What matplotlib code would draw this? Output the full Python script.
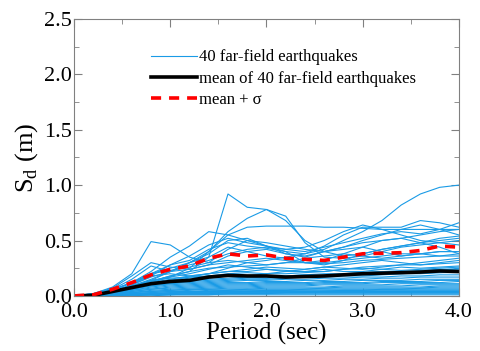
import numpy as np
import matplotlib
matplotlib.use('Agg')
import matplotlib.pyplot as plt
from matplotlib.ticker import MultipleLocator, FormatStrFormatter

plt.rcParams['font.family'] = ['Liberation Serif', 'DejaVu Serif']
plt.rcParams['mathtext.fontset'] = 'custom'
plt.rcParams['mathtext.rm'] = 'Liberation Serif'

# periods (sec)
period = [0.0, 0.2, 0.4, 0.6, 0.8, 1.0, 1.2, 1.4, 1.6, 1.8, 2.0,
          2.2, 2.4, 2.6, 2.8, 3.0, 3.2, 3.4, 3.6, 3.8, 4.0]

# spectral displacement of the 40 records (m)
eq_sd = [
    [0, 0.01, 0.04, 0.08, 0.13, 0.18, 0.22, 0.35, 0.92, 0.80, 0.78, 0.68, 0.50, 0.40, 0.36, 0.38, 0.42, 0.45, 0.48, 0.50, 0.52],
    [0, 0.01, 0.03, 0.07, 0.12, 0.17, 0.25, 0.40, 0.58, 0.70, 0.78, 0.72, 0.48, 0.35, 0.34, 0.36, 0.40, 0.44, 0.46, 0.48, 0.50],
    [0, 0.01, 0.03, 0.06, 0.10, 0.14, 0.17, 0.20, 0.25, 0.30, 0.32, 0.35, 0.38, 0.42, 0.50, 0.58, 0.68, 0.82, 0.92, 0.98, 1.00],
    [0, 0.01, 0.04, 0.09, 0.15, 0.22, 0.30, 0.40, 0.55, 0.62, 0.63, 0.63, 0.63, 0.62, 0.62, 0.61, 0.60, 0.60, 0.60, 0.60, 0.60],
    [0, 0.02, 0.08, 0.20, 0.49, 0.46, 0.35, 0.30, 0.42, 0.50, 0.45, 0.38, 0.35, 0.40, 0.42, 0.44, 0.40, 0.36, 0.38, 0.40, 0.40],
    [0, 0.01, 0.05, 0.12, 0.22, 0.35, 0.45, 0.58, 0.55, 0.50, 0.48, 0.45, 0.42, 0.40, 0.44, 0.50, 0.55, 0.60, 0.64, 0.60, 0.55],
    [0, 0.01, 0.04, 0.10, 0.18, 0.28, 0.32, 0.42, 0.48, 0.45, 0.43, 0.40, 0.38, 0.45, 0.55, 0.62, 0.62, 0.62, 0.68, 0.66, 0.62],
    [0, 0.01, 0.03, 0.08, 0.14, 0.22, 0.28, 0.32, 0.38, 0.42, 0.44, 0.42, 0.40, 0.44, 0.48, 0.52, 0.56, 0.58, 0.56, 0.60, 0.66],
    [0, 0.01, 0.04, 0.10, 0.20, 0.28, 0.36, 0.46, 0.52, 0.48, 0.45, 0.42, 0.44, 0.50, 0.58, 0.64, 0.60, 0.55, 0.50, 0.48, 0.46],
    [0, 0.02, 0.06, 0.15, 0.27, 0.22, 0.30, 0.38, 0.50, 0.52, 0.45, 0.40, 0.30, 0.28, 0.32, 0.38, 0.42, 0.45, 0.48, 0.52, 0.54],
    [0, 0.02, 0.07, 0.18, 0.30, 0.26, 0.24, 0.28, 0.36, 0.40, 0.42, 0.38, 0.36, 0.40, 0.44, 0.48, 0.50, 0.52, 0.55, 0.58, 0.60],
    [0, 0.01, 0.05, 0.12, 0.20, 0.25, 0.30, 0.35, 0.44, 0.40, 0.36, 0.34, 0.30, 0.32, 0.38, 0.44, 0.50, 0.52, 0.48, 0.44, 0.38],
    [0, 0.01, 0.05, 0.12, 0.20, 0.23, 0.26, 0.30, 0.32, 0.30, 0.28, 0.30, 0.34, 0.36, 0.38, 0.36, 0.34, 0.36, 0.38, 0.40, 0.40],
    [0, 0.01, 0.04, 0.10, 0.17, 0.22, 0.24, 0.28, 0.30, 0.32, 0.34, 0.32, 0.30, 0.30, 0.32, 0.34, 0.36, 0.38, 0.38, 0.36, 0.38],
    [0, 0.01, 0.04, 0.08, 0.13, 0.18, 0.22, 0.25, 0.26, 0.27, 0.28, 0.30, 0.30, 0.29, 0.30, 0.32, 0.33, 0.34, 0.35, 0.36, 0.36],
    [0, 0.01, 0.03, 0.08, 0.14, 0.17, 0.20, 0.24, 0.28, 0.26, 0.24, 0.22, 0.24, 0.26, 0.28, 0.30, 0.32, 0.30, 0.28, 0.30, 0.32],
    [0, 0.02, 0.06, 0.12, 0.18, 0.20, 0.18, 0.20, 0.22, 0.24, 0.26, 0.25, 0.24, 0.26, 0.25, 0.24, 0.26, 0.28, 0.30, 0.32, 0.34],
    [0, 0.01, 0.04, 0.08, 0.12, 0.15, 0.18, 0.20, 0.22, 0.22, 0.24, 0.23, 0.22, 0.22, 0.24, 0.26, 0.27, 0.28, 0.28, 0.29, 0.30],
    [0, 0.01, 0.03, 0.07, 0.11, 0.14, 0.16, 0.18, 0.20, 0.21, 0.20, 0.22, 0.22, 0.24, 0.22, 0.22, 0.24, 0.26, 0.25, 0.26, 0.27],
    [0, 0.01, 0.04, 0.09, 0.14, 0.16, 0.17, 0.18, 0.19, 0.18, 0.20, 0.20, 0.21, 0.22, 0.24, 0.25, 0.24, 0.23, 0.24, 0.25, 0.26],
    [0, 0.01, 0.03, 0.06, 0.10, 0.12, 0.14, 0.15, 0.16, 0.17, 0.18, 0.18, 0.19, 0.20, 0.20, 0.21, 0.22, 0.22, 0.23, 0.24, 0.24],
    [0, 0.01, 0.03, 0.06, 0.09, 0.11, 0.13, 0.14, 0.15, 0.16, 0.16, 0.17, 0.17, 0.18, 0.19, 0.19, 0.20, 0.20, 0.21, 0.21, 0.22],
    [0, 0.01, 0.03, 0.05, 0.08, 0.10, 0.11, 0.12, 0.13, 0.14, 0.14, 0.15, 0.15, 0.16, 0.16, 0.17, 0.17, 0.18, 0.18, 0.19, 0.19],
    [0, 0.01, 0.02, 0.05, 0.07, 0.09, 0.10, 0.11, 0.12, 0.12, 0.13, 0.13, 0.14, 0.14, 0.15, 0.15, 0.16, 0.16, 0.17, 0.17, 0.17],
    [0, 0.01, 0.02, 0.04, 0.06, 0.08, 0.09, 0.10, 0.11, 0.11, 0.12, 0.12, 0.12, 0.13, 0.13, 0.14, 0.14, 0.14, 0.15, 0.15, 0.15],
    [0, 0.01, 0.02, 0.04, 0.06, 0.07, 0.08, 0.09, 0.10, 0.10, 0.11, 0.11, 0.11, 0.12, 0.12, 0.12, 0.13, 0.13, 0.13, 0.14, 0.14],
    [0, 0.01, 0.02, 0.03, 0.05, 0.06, 0.07, 0.08, 0.09, 0.09, 0.10, 0.10, 0.10, 0.11, 0.11, 0.11, 0.12, 0.12, 0.12, 0.12, 0.13],
    [0, 0.01, 0.02, 0.03, 0.04, 0.05, 0.06, 0.07, 0.08, 0.08, 0.09, 0.09, 0.09, 0.10, 0.10, 0.10, 0.10, 0.11, 0.11, 0.11, 0.11],
    [0, 0.00, 0.01, 0.03, 0.04, 0.05, 0.06, 0.06, 0.07, 0.07, 0.08, 0.08, 0.08, 0.08, 0.09, 0.09, 0.09, 0.09, 0.10, 0.10, 0.10],
    [0, 0.00, 0.01, 0.02, 0.03, 0.04, 0.05, 0.06, 0.06, 0.06, 0.07, 0.07, 0.07, 0.07, 0.08, 0.08, 0.08, 0.08, 0.08, 0.09, 0.09],
    [0, 0.00, 0.01, 0.02, 0.03, 0.04, 0.04, 0.05, 0.05, 0.06, 0.06, 0.06, 0.06, 0.07, 0.07, 0.07, 0.07, 0.07, 0.07, 0.08, 0.08],
    [0, 0.00, 0.01, 0.02, 0.02, 0.03, 0.04, 0.04, 0.05, 0.05, 0.05, 0.05, 0.06, 0.06, 0.06, 0.06, 0.06, 0.06, 0.07, 0.07, 0.07],
    [0, 0.00, 0.01, 0.01, 0.02, 0.03, 0.03, 0.04, 0.04, 0.04, 0.05, 0.05, 0.05, 0.05, 0.05, 0.05, 0.06, 0.06, 0.06, 0.06, 0.06],
    [0, 0.00, 0.01, 0.01, 0.02, 0.02, 0.03, 0.03, 0.03, 0.04, 0.04, 0.04, 0.04, 0.04, 0.05, 0.05, 0.05, 0.05, 0.05, 0.05, 0.05],
    [0, 0.00, 0.00, 0.01, 0.01, 0.02, 0.02, 0.02, 0.03, 0.03, 0.03, 0.03, 0.03, 0.04, 0.04, 0.04, 0.04, 0.04, 0.04, 0.04, 0.04],
    [0, 0.00, 0.00, 0.01, 0.01, 0.01, 0.02, 0.02, 0.02, 0.02, 0.02, 0.03, 0.03, 0.03, 0.03, 0.03, 0.03, 0.03, 0.03, 0.03, 0.03],
    [0, 0.00, 0.00, 0.00, 0.01, 0.01, 0.01, 0.01, 0.02, 0.02, 0.02, 0.02, 0.02, 0.02, 0.02, 0.02, 0.02, 0.02, 0.02, 0.02, 0.02],
    [0, 0.00, 0.00, 0.00, 0.00, 0.01, 0.01, 0.01, 0.01, 0.01, 0.01, 0.01, 0.01, 0.01, 0.01, 0.01, 0.01, 0.01, 0.01, 0.01, 0.01],
    [0, 0.01, 0.03, 0.07, 0.10, 0.12, 0.13, 0.16, 0.18, 0.17, 0.16, 0.18, 0.19, 0.18, 0.20, 0.21, 0.22, 0.21, 0.22, 0.23, 0.25],
    [0, 0.01, 0.02, 0.06, 0.09, 0.11, 0.12, 0.13, 0.14, 0.15, 0.15, 0.16, 0.17, 0.17, 0.18, 0.18, 0.19, 0.20, 0.20, 0.21, 0.21],
]

sd_mean = [0, 0.005, 0.04, 0.075, 0.11, 0.13, 0.14, 0.17, 0.185, 0.18, 0.18,
           0.17, 0.175, 0.18, 0.19, 0.20, 0.205, 0.21, 0.215, 0.225, 0.22]
sd_mean_sigma = [0, 0.01, 0.06, 0.12, 0.19, 0.24, 0.27, 0.34, 0.38, 0.36, 0.37,
                 0.34, 0.33, 0.32, 0.35, 0.38, 0.385, 0.39, 0.41, 0.45, 0.44]

fig = plt.figure(figsize=(4.81, 3.51), dpi=100)
ax = fig.add_axes([0.154, 0.157, 0.800, 0.789])

for i, sd in enumerate(eq_sd):
    ax.plot(period, sd, color='#1a9be6', lw=0.8,
            label='40 far-field earthquakes' if i == 0 else None)
ax.plot(period, sd_mean, color='black', lw=2.6,
        label='mean of 40 far-field earthquakes')
ax.plot(period, sd_mean_sigma, color='red', lw=2.6, dashes=(2.8, 2.2),
        label='mean + σ')

ax.set_xlim(0, 4)
ax.set_ylim(0, 2.5)
ax.xaxis.set_major_locator(MultipleLocator(1.0))
ax.xaxis.set_minor_locator(MultipleLocator(0.5))
ax.yaxis.set_major_locator(MultipleLocator(0.5))
ax.yaxis.set_minor_locator(MultipleLocator(0.25))
ax.xaxis.set_major_formatter(FormatStrFormatter('%.1f'))
ax.yaxis.set_major_formatter(FormatStrFormatter('%.1f'))
ax.tick_params(which='both', direction='in', top=True, right=True,
               color='#808080', labelsize=16)
ax.tick_params(axis='x', pad=5)
ax.tick_params(axis='y', pad=1.5)
ax.tick_params(which='major', length=6)
ax.tick_params(which='minor', length=3.5)
for s in ax.spines.values():
    s.set_color('#808080')

ax.set_xlabel('Period (sec)', fontsize=18, labelpad=0)
ax.set_ylabel(r'S$_\mathrm{d}$ (m)', fontsize=19, labelpad=3)

ax.legend(loc='upper left', bbox_to_anchor=(0.2, 0.89), frameon=False,
          fontsize=12, handlelength=2.75, handletextpad=0.15,
          labelspacing=0.32, borderpad=0, borderaxespad=0)

fig.savefig('out.png', dpi=100)
